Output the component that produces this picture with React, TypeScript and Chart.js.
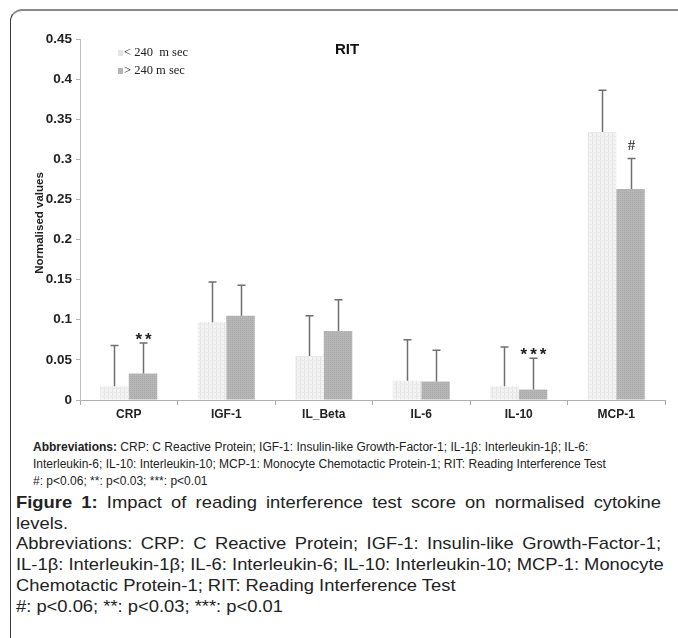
import React, { useEffect, useRef } from "react";
import { Chart, registerables } from "chart.js";

Chart.register(...registerables);

const categories = ["CRP", "IGF-1", "IL_Beta", "IL-6", "IL-10", "MCP-1"];
const shortLabel = "< 240  m sec";
const longLabel = "> 240 m sec";
const shortValues = [0.017, 0.097, 0.055, 0.024, 0.017, 0.334];
const shortErrors = [0.051, 0.05, 0.05, 0.051, 0.049, 0.052];
const longValues = [0.033, 0.105, 0.086, 0.023, 0.013, 0.263];
const longErrors = [0.038, 0.038, 0.039, 0.039, 0.039, 0.038];
const longMarks = ["**", "", "", "", "***", "#"];
const yTickLabels = ["0", "0.05", "0.1", "0.15", "0.2", "0.25", "0.3", "0.35", "0.4", "0.45"];

const chartTitle = "RIT";
const yTitle = "Normalised values";

function makePattern(kind: "light" | "dark"): CanvasPattern | string {
  const c = document.createElement("canvas");
  c.width = 4;
  c.height = 4;
  const ctx = c.getContext("2d");
  if (!ctx) return kind === "light" ? "#eeeeee" : "#b2b2b2";
  if (kind === "light") {
    ctx.fillStyle = "#f3f3f3";
    ctx.fillRect(0, 0, 4, 4);
    ctx.fillStyle = "#e3e3e3";
    ctx.fillRect(0, 0, 1, 4);
    ctx.fillStyle = "#eaeaea";
    ctx.fillRect(0, 0, 4, 1);
  } else {
    ctx.fillStyle = "#b6b6b6";
    ctx.fillRect(0, 0, 4, 4);
    ctx.fillStyle = "#a9a9a9";
    ctx.fillRect(0, 0, 1, 1);
    ctx.fillRect(2, 2, 1, 1);
    ctx.fillRect(2, 0, 1, 1);
    ctx.fillRect(0, 2, 1, 1);
  }
  const p = ctx.createPattern(c, "repeat");
  return p || (kind === "light" ? "#eeeeee" : "#b2b2b2");
}

const decorPlugin = {
  id: "decor",
  afterDatasetsDraw(chart: any) {
    const ctx: CanvasRenderingContext2D = chart.ctx;
    const yScale = chart.scales.y;
    const errs = [shortErrors, longErrors];
    ctx.save();
    // error bars
    ctx.strokeStyle = "#6f6f6f";
    ctx.lineWidth = 1.5;
    chart.data.datasets.forEach((ds: any, di: number) => {
      const meta = chart.getDatasetMeta(di);
      meta.data.forEach((el: any, i: number) => {
        const v = ds.data[i];
        const top = yScale.getPixelForValue(v + errs[di][i]);
        const x = Math.round(el.x) + 0.5;
        ctx.beginPath();
        ctx.moveTo(x, el.y);
        ctx.lineTo(x, top);
        ctx.moveTo(x - 4, top);
        ctx.lineTo(x + 4, top);
        ctx.stroke();
        if (di === 1 && longMarks[i]) {
          const mark = longMarks[i];
          ctx.fillStyle = "#222";
          ctx.textAlign = "center";
          ctx.textBaseline = "middle";
          if (mark === "#") {
            ctx.font = "15px 'Liberation Serif'";
            ctx.fillText(mark, x, top - 12);
          } else {
            ctx.font = "bold 17px 'Liberation Sans'";
            (ctx as any).letterSpacing = "3px";
            ctx.fillText(mark, x + 1.5, top - 3);
            (ctx as any).letterSpacing = "0px";
          }
        }
      });
    });
    // legend
    const legendItems = [
      { label: chart.data.datasets[0].label, color: "#e4e4e4", y: 53 },
      { label: chart.data.datasets[1].label, color: "#b4b4b4", y: 71 },
    ];
    legendItems.forEach((it) => {
      ctx.fillStyle = it.color;
      ctx.fillRect(118, it.y - 3, 5, 6);
      ctx.fillStyle = "#222";
      ctx.font = "12.5px 'Liberation Serif'";
      ctx.textAlign = "left";
      ctx.textBaseline = "middle";
      ctx.fillText(it.label, 124, it.y);
    });
    // title
    ctx.fillStyle = "#111";
    ctx.font = "bold 15px 'Liberation Sans'";
    ctx.textAlign = "center";
    ctx.textBaseline = "middle";
    ctx.fillText(chartTitle, 347, 50);
    // y title
    ctx.translate(40, 223);
    ctx.rotate(-Math.PI / 2);
    ctx.font = "bold 11.5px 'Liberation Sans'";
    ctx.fillStyle = "#222";
    ctx.fillText(yTitle, 0, 0);
    ctx.restore();
  },
};

function BarChart() {
  const ref = useRef<HTMLCanvasElement | null>(null);
  useEffect(() => {
    if (!ref.current) return;
    const chart = new Chart(ref.current, {
      type: "bar",
      data: {
        labels: categories,
        datasets: [
          {
            label: shortLabel,
            data: shortValues,
            backgroundColor: makePattern("light") as any,
            borderWidth: 0,
            categoryPercentage: 0.585,
            barPercentage: 1,
          },
          {
            label: longLabel,
            data: longValues,
            backgroundColor: makePattern("dark") as any,
            borderWidth: 0,
            categoryPercentage: 0.585,
            barPercentage: 1,
          },
        ],
      },
      options: {
        responsive: false,
        animation: false,
        devicePixelRatio: 1,
        layout: { padding: { top: 39, right: 13, left: 0, bottom: 0 } },
        plugins: {
          legend: { display: false },
          title: { display: false },
          tooltip: { enabled: false },
        },
        scales: {
          x: {
            grid: {
              display: true,
              drawOnChartArea: false,
              drawTicks: true,
              tickLength: 5,
              color: "#aaaaaa",
              offset: true,
            },
            border: { color: "#b0b0b0", width: 1 },
            ticks: {
              color: "#222",
              font: { family: "'Liberation Sans'", size: 12, weight: "bold" },
              padding: 2,
            },
            afterFit(scale: any) {
              scale.height = 25;
            },
          },
          y: {
            min: 0,
            max: 0.45,
            grid: {
              display: true,
              drawOnChartArea: false,
              drawTicks: true,
              tickLength: 4,
              color: "#b0b0b0",
            },
            border: { color: "#c0c0c0", width: 1 },
            ticks: {
              stepSize: 0.05,
              color: "#222",
              padding: 4,
              font: { family: "'Liberation Sans'", size: 13.5, weight: "bold" },
              callback: (_v: any, i: number) => yTickLabels[i],
            },
            afterFit(scale: any) {
              scale.width = 80;
            },
          },
        },
      },
      plugins: [decorPlugin],
    });
    return () => chart.destroy();
  }, []);
  return (
    <canvas
      ref={ref}
      width={678}
      height={425}
      style={{ position: "absolute", left: 0, top: 0, width: 678, height: 425 }}
    />
  );
}

const smallLines = [
  ["Abbreviations:", " CRP: C Reactive Protein; IGF-1: Insulin-like Growth-Factor-1; IL-1β: Interleukin-1β; IL-6:"],
  ["", "Interleukin-6; IL-10: Interleukin-10; MCP-1: Monocyte Chemotactic Protein-1; RIT: Reading Interference Test"],
  ["", "#: p<0.06; **: p<0.03; ***: p<0.01"],
];

const captionLines: { bold: string; text: string; justify: boolean }[] = [
  { bold: "Figure 1:", text: " Impact of reading interference test score on normalised cytokine", justify: true },
  { bold: "", text: "levels.", justify: false },
  { bold: "", text: "Abbreviations: CRP: C Reactive Protein; IGF-1: Insulin-like Growth-Factor-1;", justify: true },
  { bold: "", text: "IL-1β: Interleukin-1β; IL-6: Interleukin-6; IL-10: Interleukin-10; MCP-1: Monocyte", justify: true },
  { bold: "", text: "Chemotactic Protein-1; RIT: Reading Interference Test", justify: false },
  { bold: "", text: "#: p<0.06; **: p<0.03; ***: p<0.01", justify: false },
];

const CAP_SCALE = 1.08;

export default function App() {
  return (
    <div
      style={{
        position: "absolute",
        left: 0,
        top: 0,
        width: 678,
        height: 638,
        overflow: "hidden",
        background: "#fff",
      }}
    >
      <div
        style={{
          position: "absolute",
          left: 10,
          top: 9,
          width: 720,
          height: 720,
          borderTop: "2px solid #8a8a8a",
          borderLeft: "1.5px solid #3a3a3a",
          borderTopLeftRadius: 12,
          boxSizing: "border-box",
        }}
      />
      <BarChart />
      <div
        style={{
          position: "absolute",
          left: 33,
          top: 439,
          fontFamily: "'Liberation Sans Narrow', 'Liberation Sans', Arial, sans-serif",
          fontSize: 12,
          lineHeight: "17px",
          color: "#222",
          whiteSpace: "pre",
        }}
      >
        {smallLines.map((l, i) => (
          <div key={i}>
            {l[0] ? <b>{l[0]}</b> : null}
            {l[1]}
          </div>
        ))}
      </div>
      <div
        style={{
          position: "absolute",
          left: 16,
          top: 493,
          width: 645 / CAP_SCALE,
          transform: `scaleX(${CAP_SCALE})`,
          transformOrigin: "0 0",
          fontFamily: "'Liberation Sans', Arial, sans-serif",
          fontSize: 17,
          lineHeight: "20.7px",
          color: "#222",
        }}
      >
        {captionLines.map((l, i) => (
          <div
            key={i}
            style={{
              textAlign: l.justify ? "justify" : "left",
              textAlignLast: l.justify ? "justify" : "left",
              whiteSpace: "nowrap",
            }}
          >
            {l.bold ? <b>{l.bold}</b> : null}
            {l.text}
          </div>
        ))}
      </div>
    </div>
  );
}
